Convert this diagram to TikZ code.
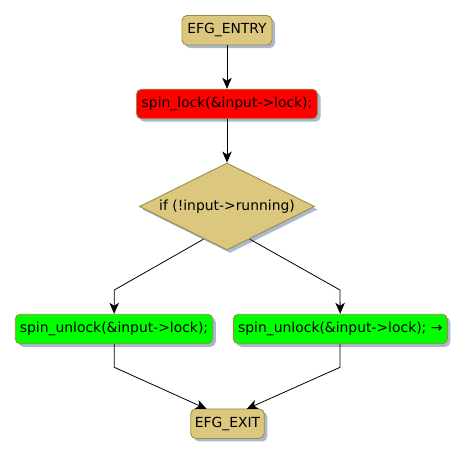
\documentclass[tikz,border=0pt]{standalone}
\usepackage{fontspec}
\setmainfont{DejaVu Sans}
\usetikzlibrary{shapes.geometric,arrows.meta,positioning,shadows}
\definecolor{tan}{RGB}{219,200,126}
\definecolor{bord}{RGB}{160,140,64}
\definecolor{shad}{RGB}{170,184,210}
\definecolor{redf}{RGB}{255,0,0}
\definecolor{greenf}{RGB}{0,255,0}
\tikzset{
  box/.style={draw=bord, line width=0.9pt, rounded corners=5pt, minimum height=29.5pt,
    inner sep=0pt, font=\fontsize{13.9}{16}\selectfont, text=black,
    drop shadow={shadow xshift=3pt, shadow yshift=-3pt, fill=shad, opacity=1}},
  dia/.style={draw=bord, line width=0.9pt, diamond, aspect=2.0, inner sep=0pt,
    font=\fontsize{13.9}{16}\selectfont, fill=tan, minimum width=175pt, minimum height=87pt,
    drop shadow={shadow xshift=3pt, shadow yshift=-3pt, fill=shad, opacity=1}},
  conn/.style={draw=black, line width=0.8pt, -{Stealth[length=11pt,width=9.5pt,inset=3pt]}},
}
\begin{document}
\begin{tikzpicture}[x=1pt,y=-1pt]
\useasboundingbox[fill=white] (0,0) rectangle (465,457);
\node[box, fill=tan, minimum width=90pt] (entry) at (227,30.3) {EFG\_ENTRY};
\node[box, fill=redf, minimum width=181pt] (lock) at (227,104) {spin\_lock(\&input->lock);};
\node[dia] (cond) at (227,206.5) {if (!input->running)};
\node[box, fill=greenf, minimum width=197.5pt] (ul) at (114,329) {spin\_unlock(\&input->lock);};
\node[box, fill=greenf, minimum width=214pt] (ur) at (340.3,329) {spin\_unlock(\&input->lock); \char"2192};
\node[box, fill=tan, minimum width=73.5pt] (exit) at (227.5,423.7) {EFG\_EXIT};
\coordinate (lb) at (114.3,290);
\coordinate (rb) at (340,290);
\coordinate (lj) at (114.3,367.3);
\coordinate (rj) at (340,367.3);
\coordinate (le) at (206.7,409);
\coordinate (re) at (246.7,409);
\coordinate (ls) at (203.3,239.3);
\coordinate (rs) at (250,239.3);
\draw[conn] (entry) -- (lock);
\draw[conn] (lock) -- (cond);
\draw[conn] (ls) -- (lb) -- (ul);
\draw[conn] (rs) -- (rb) -- (ur);
\draw[conn] (ul.south -| lj) -- (lj) -- (le);
\draw[conn] (ur.south -| rj) -- (rj) -- (re);
\end{tikzpicture}
\end{document}
